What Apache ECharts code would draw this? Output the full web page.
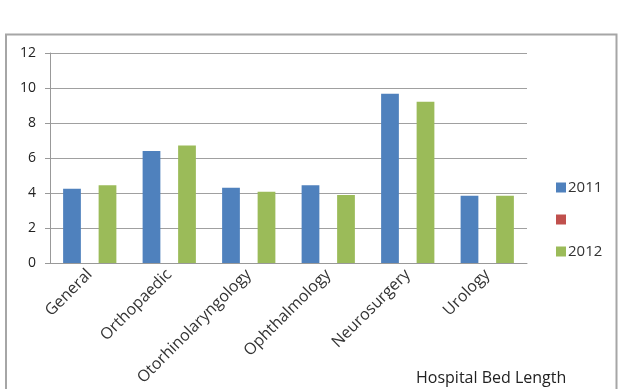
<!DOCTYPE html>
<html lang="en">
<head>
  <meta charset="UTF-8">
  <title>Hospital Bed Length</title>
  <style>
    html, body { margin: 0; padding: 0; background: #fff; }
    #chart { width: 621px; height: 389px; }
  </style>
  <script src="https://cdn.jsdelivr.net/npm/echarts@6/dist/echarts.min.js"></script>
</head>
<body>
  <div id="chart"></div>
  <script>
    const categories = ['General', 'Orthopaedic', 'Otorhinolaryngology', 'Ophthalmology', 'Neurosurgery', 'Urology'];
    const values2011 = [4.25, 6.4, 4.3, 4.45, 9.67, 3.85];
    const valuesBlank = [null, null, null, null, null, null];
    const values2012 = [4.45, 6.72, 4.07, 3.89, 9.22, 3.85];
    const yTicks = [0, 2, 4, 6, 8, 10, 12];

    const chart = echarts.init(document.getElementById('chart'));
    chart.setOption({
      animation: false,
      textStyle: { fontFamily: 'Open Sans, sans-serif' },
      graphic: [{
        type: 'rect',
        shape: { x: 6, y: 34.5, width: 610.5, height: 400 },
        style: { fill: 'none', stroke: '#a6a6a6', lineWidth: 2 },
        silent: true
      }],
      title: {
        text: 'Hospital Bed Length',
        left: 411, top: 365,
        textStyle: { fontSize: 16, fontWeight: 'normal', color: '#222' }
      },
      legend: {
        orient: 'vertical',
        left: 551, top: 175,
        itemWidth: 10, itemHeight: 10, itemGap: 17,
        icon: 'rect',
        textStyle: { fontSize: 15, color: '#333', padding: [0, 0, 0, -3] },
        data: ['2011', ' ', '2012']
      },
      grid: { left: 50, right: 94, top: 53, bottom: 126 },
      xAxis: {
        type: 'category',
        data: categories,
        axisLine: { lineStyle: { color: '#999' } },
        axisTick: { length: 5, lineStyle: { color: '#999' } },
        axisLabel: { rotate: 45, fontSize: 16, color: '#333', margin: 9 }
      },
      yAxis: {
        type: 'value',
        min: yTicks[0], max: yTicks[yTicks.length - 1], interval: 2,
        axisLine: { show: true, lineStyle: { color: '#999' } },
        axisTick: { show: true, length: 5, lineStyle: { color: '#999' } },
        axisLabel: { fontSize: 14, color: '#222', margin: 14 },
        splitLine: { lineStyle: { color: '#a0a0a0' } }
      },
      series: [
        { name: '2011', type: 'bar', data: values2011, itemStyle: { color: '#4f81bd' }, barGap: '0%', barCategoryGap: '33%' },
        { name: ' ', type: 'bar', data: valuesBlank, itemStyle: { color: '#c0504d' } },
        { name: '2012', type: 'bar', data: values2012, itemStyle: { color: '#9bbb59' } }
      ]
    });
  </script>
</body>
</html>
